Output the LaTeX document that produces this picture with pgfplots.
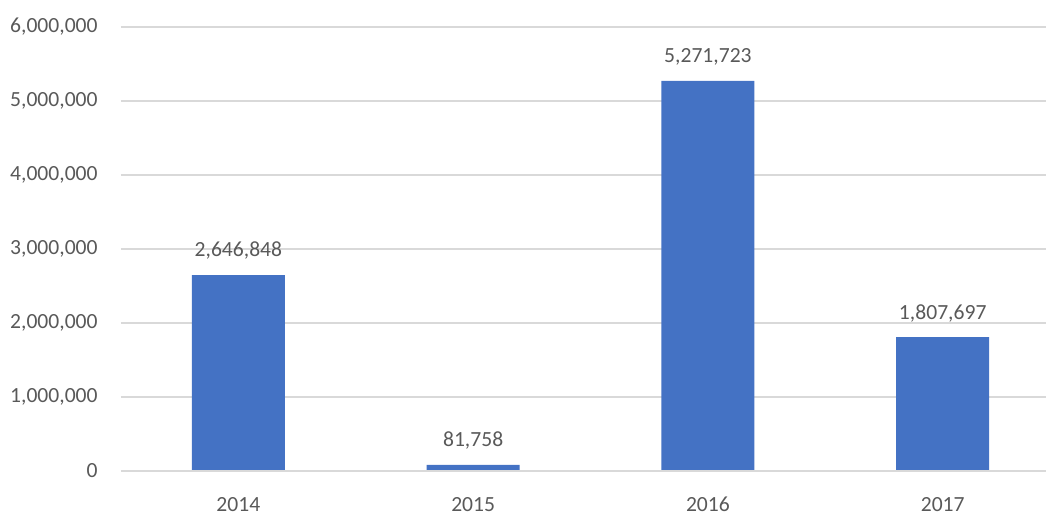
\documentclass[border=0pt]{standalone}
\usepackage{fontspec}
\setmainfont{Carlito}
\usepackage{pgfplots}
\pgfplotsset{compat=1.18}
\definecolor{barblue}{HTML}{4472C4}
\definecolor{txtgray}{HTML}{595959}
\definecolor{gridgray}{HTML}{D9D9D9}
\begin{document}
\begin{tikzpicture}[x=1pt,y=1pt]
\useasboundingbox (0,0) rectangle (523,256.5);
\begin{axis}[
  at={(60.5pt,21pt)}, anchor=south west,
  scale only axis, width=462.5pt, height=222pt,
  ymin=0, ymax=6000000,
  xmin=-0.5, xmax=3.44,
  ytick={0,1000000,2000000,3000000,4000000,5000000,6000000},
  yticklabels={0,{1,000,000},{2,000,000},{3,000,000},{4,000,000},{5,000,000},{6,000,000}},
  xtick={0,1,2,3}, xticklabels={2014,2015,2016,2017},
  scaled y ticks=false,
  major tick length=0pt,
  axis line style={draw=none},
  ymajorgrids, grid style={gridgray, line width=0.7pt},
  tick label style={font=\fontsize{10.8}{13}\selectfont, text=txtgray, inner sep=0pt},
  yticklabel style={anchor=east, xshift=-11.5pt},
  xticklabel style={anchor=north, yshift=-13pt},
  ybar, bar width=46.5pt,
  nodes near coords,
  every node near coord/.append style={font=\fontsize{10.8}{13}\selectfont, text=txtgray, inner sep=0pt, anchor=south, yshift=7.5pt},
  /pgf/number format/.cd, fixed, precision=0, 1000 sep={,}, assume math mode=true,
  clip=false,
]
\addplot[fill=barblue, draw=none] coordinates {(0,2646848) (1,81758) (2,5271723) (3,1807697)};
\draw[gridgray, line width=0.7pt] (axis cs:-0.5,0) -- (axis cs:3.44,0);
\end{axis}
\end{tikzpicture}
\end{document}
